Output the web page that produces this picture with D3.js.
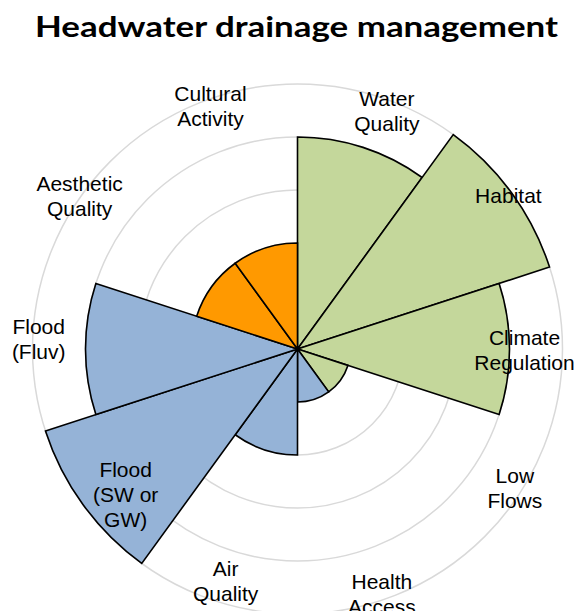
<!DOCTYPE html>
<html>
<head>
<meta charset="utf-8">
<script src="https://cdn.jsdelivr.net/npm/d3@7"></script>
<style>
  body { margin: 0; background: #fff; }
  .title { font-family: Lato, "Open Sans", sans-serif; font-weight: bold; font-size: 28px; fill: #000; }
  .label { font-family: "Liberation Sans", Arial, sans-serif; font-size: 21px; fill: #000; }
</style>
</head>
<body>
<div id="chart"></div>
<script>
const width = 577;
const height = 611;

// data
const categories = ["Water Quality", "Habitat", "Climate Regulation", "Low Flows", "Health Access",
                    "Air Quality", "Flood (SW or GW)", "Flood (Fluv)", "Aesthetic Quality", "Cultural Activity"];
const labelLines = [["Water", "Quality"], ["Habitat"], ["Climate", "Regulation"], ["Low", "Flows"], ["Health", "Access"],
                    ["Air", "Quality"], ["Flood", "(SW or", "GW)"], ["Flood", "(Fluv)"], ["Aesthetic", "Quality"], ["Cultural", "Activity"]];
const values = [4, 5, 4, 1, 1, 2, 5, 4, 2, 2];
const groups = ["Environment", "Environment", "Environment", "Environment", "Health",
                "Health", "Health", "Health", "Culture", "Culture"];
const ringTicks = [1, 2, 3, 4, 5];

const title = "Headwater drainage management";

// layout
const cx = 297.5;
const cy = 349;
const maxR = 265;
// label placement (degrees clockwise from 12 o'clock, px from centre)
const labelAngle = [20.6, 53.9, 90.3, 122.6, 161, 197.2, 229.8, 272.3, 305, 340.3];
const labelR     = [254, 261, 227, 258, 259, 243, 225, 259, 266, 258];
const lineH = 25;

const color = d3.scaleOrdinal()
   .domain(["Environment", "Health", "Culture"])
   .range(["#C4D79B", "#95B3D7", "#FF9900"]);

const svg = d3.select("#chart").append("svg")
   .attr("width", width)
   .attr("height", height);

// title
svg.append("text")
   .attr("class", "title")
   .attr("x", 296.5)
   .attr("y", 37)
   .attr("text-anchor", "middle")
   .attr("textLength", 523)
   .attr("lengthAdjust", "spacingAndGlyphs")
   .text(title);

const r = d3.scaleLinear()
   .domain([0, 5])
   .range([0, maxR]);

const angle = d3.scaleBand()
   .domain(categories)
   .range([0, 2 * Math.PI])
   .padding(0);

const g = svg.append("g")
   .attr("transform", `translate(${cx},${cy})`);

// grid rings
g.selectAll("circle.ring")
   .data(ringTicks)
   .enter()
   .append("circle")
   .attr("class", "ring")
   .attr("r", d => r(d))
   .style("fill", "none")
   .style("stroke", "#D9D9D9")
   .style("stroke-width", 1.5);

const arc = d3.arc()
   .innerRadius(0)
   .outerRadius((d, i) => r(values[i]))
   .startAngle(d => angle(d))
   .endAngle(d => angle(d) + angle.bandwidth());

g.selectAll("path.bar")
   .data(categories)
   .enter()
   .append("path")
   .attr("class", "bar")
   .attr("d", (d, i) => arc(d, i))
   .style("fill", (d, i) => color(groups[i]))
   .style("stroke", "#000")
   .style("stroke-width", 1.6)
   .style("stroke-linejoin", "miter");

// category labels
const labels = g.selectAll("text.label")
   .data(categories)
   .enter()
   .append("text")
   .attr("class", "label")
   .attr("text-anchor", "middle")
   .attr("transform", (d, i) => {
      const a = labelAngle[i] * Math.PI / 180;
      const x = labelR[i] * Math.sin(a);
      const y = -labelR[i] * Math.cos(a);
      return `translate(${x},${y})`;
   });

labels.each(function(d, i) {
   const lines = labelLines[i];
   const first = -(lines.length - 1) * lineH / 2 + 7.5;
   d3.select(this).selectAll("tspan")
      .data(lines)
      .enter()
      .append("tspan")
      .attr("x", 0)
      .attr("y", (t, j) => first + j * lineH)
      .text(t => t);
});
</script>
</body>
</html>
